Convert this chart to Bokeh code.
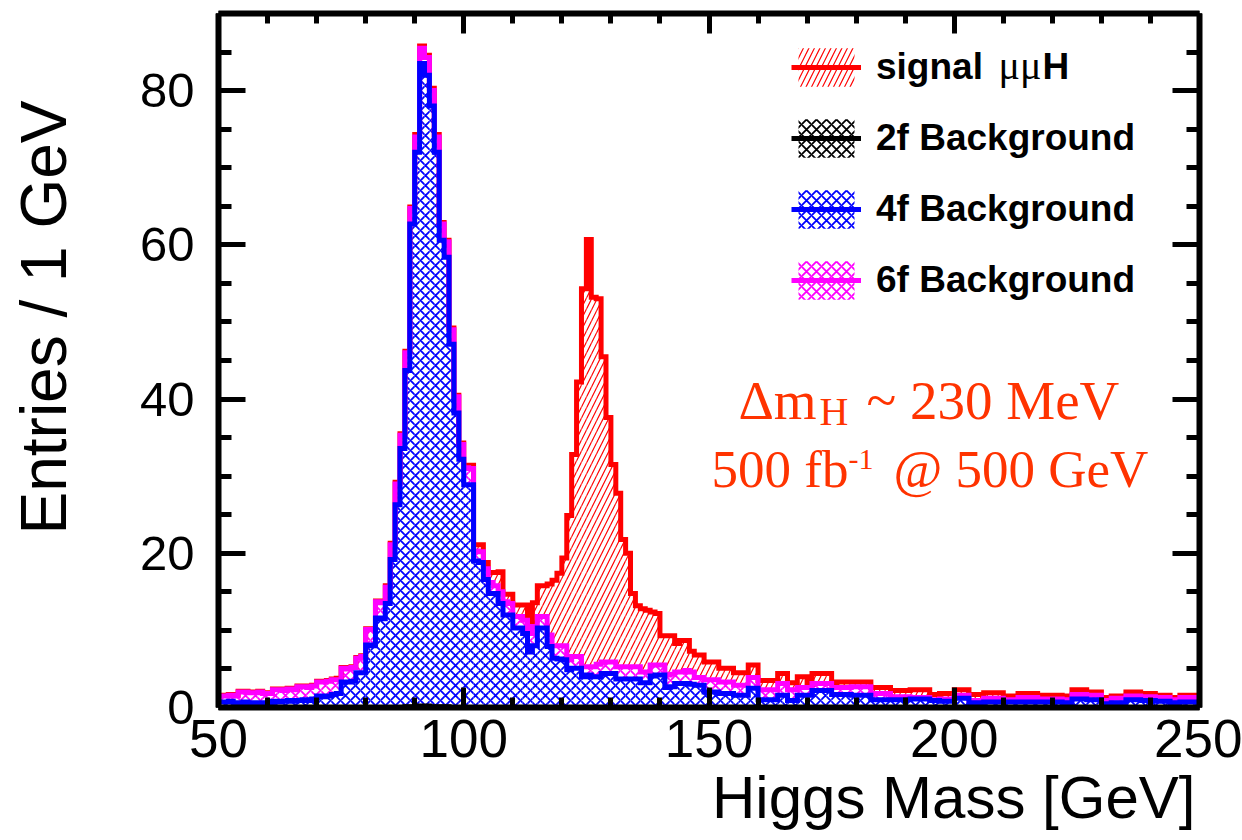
import numpy as np
from bokeh.plotting import figure
from bokeh.models import (Range1d, SingleIntervalTicker, LinearAxis, Label,
                          Legend, LegendItem, Title)
from bokeh.embed import file_html
from bokeh.resources import INLINE

# ---------------- data (1 GeV bins from 50 to 250 GeV) ----------------
bin_edges = list(range(50, 251))

# 2f background (negligible)
bkg_2f = [
    0.0, 0.0, 0.0, 0.0, 0.0, 0.0, 0.0, 0.0, 0.0, 0.0,
    0.0, 0.0, 0.0, 0.0, 0.0, 0.0, 0.0, 0.0, 0.0, 0.0,
    0.0, 0.0, 0.0, 0.0, 0.0, 0.0, 0.0, 0.0, 0.0, 0.0,
    0.0, 0.0, 0.0, 0.0, 0.0, 0.0, 0.0, 0.0, 0.1, 0.1,
    0.1, 0.2, 0.2, 0.1, 0.1, 0.1, 0.1, 0.0, 0.0, 0.0,
    0.0, 0.0, 0.0, 0.0, 0.0, 0.0, 0.0, 0.0, 0.0, 0.0,
    0.0, 0.0, 0.0, 0.0, 0.0, 0.0, 0.0, 0.0, 0.0, 0.0,
    0.0, 0.0, 0.0, 0.0, 0.0, 0.0, 0.0, 0.0, 0.0, 0.0,
    0.0, 0.0, 0.0, 0.0, 0.0, 0.0, 0.0, 0.0, 0.0, 0.0,
    0.0, 0.0, 0.0, 0.0, 0.0, 0.0, 0.0, 0.0, 0.0, 0.0,
    0.0, 0.0, 0.0, 0.0, 0.0, 0.0, 0.0, 0.0, 0.0, 0.0,
    0.0, 0.0, 0.0, 0.0, 0.0, 0.0, 0.0, 0.0, 0.0, 0.0,
    0.0, 0.0, 0.0, 0.0, 0.0, 0.0, 0.0, 0.0, 0.0, 0.0,
    0.0, 0.0, 0.0, 0.0, 0.0, 0.0, 0.0, 0.0, 0.0, 0.0,
    0.0, 0.0, 0.0, 0.0, 0.0, 0.0, 0.0, 0.0, 0.0, 0.0,
    0.0, 0.0, 0.0, 0.0, 0.0, 0.0, 0.0, 0.0, 0.0, 0.0,
    0.0, 0.0, 0.0, 0.0, 0.0, 0.0, 0.0, 0.0, 0.0, 0.0,
    0.0, 0.0, 0.0, 0.0, 0.0, 0.0, 0.0, 0.0, 0.0, 0.0,
    0.0, 0.0, 0.0, 0.0, 0.0, 0.0, 0.0, 0.0, 0.0, 0.0,
    0.0, 0.0, 0.0, 0.0, 0.0, 0.0, 0.0, 0.0, 0.0, 0.0,
]

# stacked level: 2f + 4f (top of blue histogram)
stack_2f_4f = [
    0.7, 0.7, 0.8, 0.6, 0.6, 0.7, 0.6, 0.5, 0.6, 0.5,
    0.6, 0.8, 0.7, 0.8, 0.9, 0.8, 0.9, 1.0, 0.9, 1.1,
    1.5, 1.4, 1.5, 1.7, 1.8, 3.3, 3.3, 3.4, 4.5, 4.5,
    8.1, 8.0, 11.6, 11.5, 13.5, 19.2, 26.3, 33.6, 43.7, 62.7,
    72.0, 83.5, 82.0, 78.0, 72.0, 60.6, 58.4, 47.1, 38.2, 32.2,
    28.9, 28.9, 19.0, 18.8, 16.6, 14.8, 14.8, 13.5, 12.0, 12.0,
    10.3, 10.3, 9.6, 7.2, 8.0, 10.3, 10.3, 7.9, 6.4, 6.3,
    6.2, 4.9, 5.1, 5.1, 4.0, 4.2, 4.0, 4.0, 4.4, 4.4,
    4.4, 3.7, 3.7, 3.7, 3.7, 3.7, 3.2, 3.2, 4.1, 4.2,
    4.2, 2.6, 2.7, 3.1, 3.1, 3.1, 3.0, 2.9, 2.9, 2.0,
    2.0, 2.0, 1.8, 1.8, 1.8, 1.6, 1.6, 1.6, 2.5, 2.5,
    1.0, 1.0, 1.0, 1.0, 1.6, 1.6, 0.9, 0.9, 1.6, 1.6,
    1.6, 2.2, 2.2, 2.2, 2.2, 1.7, 1.7, 1.7, 1.7, 1.6,
    1.6, 1.6, 1.6, 1.0, 1.0, 1.0, 1.0, 1.0, 1.0, 1.0,
    1.0, 1.1, 1.1, 1.1, 1.1, 0.9, 0.9, 0.8, 0.8, 0.8,
    1.2, 1.2, 1.2, 0.6, 0.6, 0.6, 0.7, 0.7, 0.7, 0.7,
    0.7, 0.7, 0.7, 0.7, 0.7, 0.7, 0.7, 0.7, 0.7, 0.7,
    0.7, 0.7, 0.6, 0.6, 1.1, 1.1, 1.1, 1.0, 1.0, 1.0,
    0.5, 0.5, 0.6, 0.6, 0.6, 1.0, 1.0, 1.0, 0.9, 0.9,
    0.9, 0.8, 0.8, 0.8, 0.6, 0.6, 0.7, 0.7, 0.7, 0.7,
]

# stacked level: all backgrounds (top of magenta histogram)
stack_bkg = [
    1.5, 1.5, 1.6, 1.5, 2.0, 2.0, 1.9, 1.9, 2.0, 1.8,
    1.8, 2.3, 2.3, 2.2, 2.4, 2.3, 2.7, 2.7, 2.6, 2.8,
    3.3, 3.3, 3.4, 3.6, 3.6, 5.1, 5.0, 5.2, 6.4, 6.6,
    10.1, 10.1, 13.7, 13.6, 15.6, 21.1, 29.0, 35.3, 46.0, 64.7,
    74.0, 85.5, 84.3, 80.0, 74.0, 62.7, 60.4, 49.0, 40.3, 34.1,
    31.1, 31.0, 20.3, 20.2, 18.0, 16.2, 15.8, 15.0, 13.7, 13.5,
    11.8, 11.8, 11.3, 9.6, 10.5, 11.8, 11.8, 9.4, 8.0, 8.0,
    8.0, 6.2, 6.6, 6.6, 5.3, 5.3, 5.3, 5.6, 5.9, 5.9,
    5.9, 5.3, 5.3, 5.3, 5.3, 5.3, 4.6, 4.6, 5.5, 5.5,
    5.5, 4.2, 4.3, 4.6, 4.6, 4.8, 4.6, 3.9, 3.9, 3.6,
    3.6, 3.6, 3.3, 3.3, 3.3, 2.9, 2.9, 2.9, 3.9, 3.9,
    2.3, 2.3, 2.3, 2.3, 3.1, 3.1, 2.3, 2.3, 2.6, 2.6,
    2.6, 3.1, 3.1, 3.1, 3.1, 2.6, 2.6, 2.6, 2.6, 2.7,
    2.7, 2.7, 2.7, 1.8, 1.8, 1.8, 1.8, 1.4, 1.4, 1.4,
    1.4, 1.3, 1.3, 1.3, 1.3, 1.0, 1.0, 1.1, 1.1, 1.1,
    1.6, 1.6, 1.6, 0.9, 0.9, 0.9, 1.2, 1.2, 1.2, 1.2,
    1.0, 1.0, 1.0, 1.3, 1.3, 1.3, 1.3, 1.1, 1.1, 1.1,
    1.1, 1.1, 1.0, 1.0, 1.7, 1.7, 1.7, 1.6, 1.6, 1.6,
    0.9, 0.9, 1.2, 1.2, 1.2, 1.5, 1.5, 1.5, 1.4, 1.4,
    1.4, 1.3, 1.3, 1.3, 1.0, 1.0, 1.3, 1.3, 1.3, 1.3,
]

# stacked level: backgrounds + signal mumuH (top of red histogram)
stack_total = [
    1.6, 1.6, 1.7, 1.6, 2.1, 2.1, 2.0, 2.0, 2.1, 1.9,
    1.9, 2.4, 2.4, 2.3, 2.5, 2.4, 2.8, 2.8, 2.7, 2.9,
    3.4, 3.4, 3.5, 3.7, 3.8, 5.2, 5.1, 5.3, 6.5, 6.7,
    10.2, 10.2, 13.8, 13.7, 15.8, 21.3, 29.2, 35.5, 46.2, 64.9,
    74.3, 85.8, 84.6, 80.3, 74.3, 62.9, 60.6, 49.2, 40.5, 34.3,
    31.4, 31.4, 21.1, 21.1, 18.8, 17.5, 17.5, 17.6, 14.7, 14.7,
    13.3, 13.3, 13.3, 10.5, 13.6, 15.8, 15.8, 16.0, 16.5, 17.4,
    19.4, 24.9, 32.8, 42.2, 54.3, 60.7, 53.2, 53.0, 45.5, 37.6,
    31.5, 27.8, 21.8, 20.0, 14.8, 13.2, 12.8, 12.6, 12.4, 12.2,
    9.3, 9.3, 9.3, 8.3, 8.7, 8.7, 7.3, 6.8, 6.8, 5.9,
    5.9, 5.9, 5.1, 5.1, 5.1, 4.5, 4.5, 4.5, 5.5, 5.5,
    3.5, 3.5, 3.5, 3.5, 4.4, 4.4, 3.2, 3.2, 4.0, 4.0,
    3.0, 4.4, 4.4, 4.4, 4.4, 3.2, 3.3, 3.3, 3.3, 3.3,
    3.3, 3.3, 3.3, 2.6, 2.6, 2.6, 2.6, 2.2, 2.2, 2.2,
    2.2, 2.3, 2.3, 2.3, 2.3, 1.7, 1.7, 1.8, 1.8, 1.8,
    2.3, 2.3, 2.3, 1.7, 1.7, 1.7, 1.9, 1.9, 1.9, 1.9,
    1.5, 1.5, 1.5, 1.8, 1.8, 1.8, 1.8, 1.6, 1.6, 1.6,
    1.6, 1.6, 1.5, 1.5, 2.3, 2.3, 2.3, 2.0, 2.0, 2.0,
    1.3, 1.3, 1.5, 1.5, 1.5, 2.0, 2.0, 2.0, 1.8, 1.8,
    1.8, 1.6, 1.6, 1.6, 1.3, 1.3, 1.6, 1.6, 1.6, 1.6,
]

x_major_ticks = [50, 100, 150, 200, 250]
y_major_ticks = [0, 20, 40, 60, 80]

# ---------------- figure ----------------
X0, X1, Y0, Y1 = 50, 250, 0, 90
W, H = 1242, 840
ML, MT = 218, 13
FW, FH = 981, 694
MR, MB = W - ML - FW, H - MT - FH

p = figure(width=W, height=H, x_range=Range1d(X0, X1), y_range=Range1d(Y0, Y1),
           output_backend="svg", toolbar_location=None,
           min_border_left=ML, min_border_right=MR,
           min_border_top=MT, min_border_bottom=MB)
p.grid.visible = False
p.outline_line_color = None
p.background_fill_color = "white"
p.border_fill_color = "white"


def px2x(px):
    # canvas pixel column -> data x
    return X0 + (px - ML) * (X1 - X0) / FW


def py2y(py):
    # canvas pixel row -> data y
    return Y0 + (MT + FH - py) * (Y1 - Y0) / FH


edges = np.array(bin_edges, dtype=float)
left, right = edges[:-1], edges[1:]
L2 = np.array(bkg_2f)
L4 = np.array(stack_2f_4f)
L6 = np.array(stack_bkg)
LT = np.array(stack_total)

RED, MAG, BLUE, BLACK = "#ff0000", "#ff00ff", "#0000ff", "#000000"
LW = 5

q_sig = p.quad(left=left, right=right, bottom=L6, top=LT, fill_color=None,
               line_color=None, hatch_pattern="/", hatch_color=RED,
               hatch_scale=11, hatch_weight=1.2)
q_6f = p.quad(left=left, right=right, bottom=L4, top=L6, fill_color=None,
              line_color=None, hatch_pattern="x", hatch_color=MAG,
              hatch_scale=10, hatch_weight=1.8)
q_4f = p.quad(left=left, right=right, bottom=L2, top=L4, fill_color=None,
              line_color=None, hatch_pattern="x", hatch_color=BLUE,
              hatch_scale=10, hatch_weight=1.8)
q_2f = p.quad(left=left, right=right, bottom=np.zeros_like(L2), top=L2,
              fill_color=None, line_color=None, hatch_pattern="x",
              hatch_color=BLACK, hatch_scale=10, hatch_weight=1.8)


def step_y(v):
    return list(v) + [v[-1]]


l_sig = p.step(x=edges, y=step_y(LT), mode="after", line_color=RED,
               line_width=LW, line_join="miter")
l_6f = p.step(x=edges, y=step_y(L6), mode="after", line_color=MAG,
              line_width=LW, line_join="miter")
l_4f = p.step(x=edges, y=step_y(L4), mode="after", line_color=BLUE,
              line_width=LW, line_join="miter")
l_2f = p.step(x=edges, y=step_y(L2), mode="after", line_color=BLACK,
              line_width=LW, line_join="miter")

# ---------------- axes ----------------
bottom_ax = p.below[0]
left_ax = p.left[0]
xt = SingleIntervalTicker(interval=50, num_minor_ticks=5)
yt = SingleIntervalTicker(interval=20, num_minor_ticks=4)
bottom_ax.ticker = xt
left_ax.ticker = yt

top_ax = LinearAxis(ticker=xt,
                    major_label_overrides={t: "" for t in x_major_ticks})
right_ax = LinearAxis(ticker=yt,
                      major_label_overrides={t: "" for t in y_major_ticks})
p.add_layout(top_ax, "above")
p.add_layout(right_ax, "right")

for ax in [bottom_ax, top_ax]:
    ax.major_tick_in = 20
    ax.minor_tick_in = 10
for ax in [left_ax, right_ax]:
    ax.major_tick_in = 27
    ax.minor_tick_in = 13
for ax in [bottom_ax, top_ax, left_ax, right_ax]:
    ax.major_tick_out = 0
    ax.minor_tick_out = 0
    ax.axis_line_width = 6
    ax.major_tick_line_width = 5
    ax.minor_tick_line_width = 5
    ax.axis_line_color = "black"
    ax.major_tick_line_color = "black"
    ax.minor_tick_line_color = "black"
    ax.major_label_text_font = "Liberation Sans"
    ax.major_label_text_color = "black"
for ax in [top_ax, right_ax]:
    ax.major_label_text_font_size = "8px"
    ax.major_label_standoff = 0
bottom_ax.major_label_text_font_size = "53px"
bottom_ax.major_label_standoff = 12
left_ax.major_label_text_font_size = "49px"
left_ax.major_label_standoff = 24

# axis titles (ROOT style, aligned to the axis end)
# (the trailing empty line keeps the vertical title clear of the tick labels)
p.add_layout(Title(text="Entries / 1 GeV\n", align="right", offset=87,
                   vertical_align="top", standoff=0, text_line_height=0.76,
                   text_font="Liberation Sans", text_font_size="64px",
                   text_font_style="normal", text_color="black"), "left")
p.add_layout(Title(text="Higgs Mass [GeV]", align="right", offset=4,
                   standoff=4, text_font="Liberation Sans",
                   text_font_size="60px", text_font_style="normal",
                   text_color="black"), "below")

# ---------------- legend ----------------
legend = Legend(items=[
    LegendItem(label="signal", renderers=[q_sig, l_sig]),
    LegendItem(label="2f Background", renderers=[q_2f, l_2f]),
    LegendItem(label="4f Background", renderers=[q_4f, l_4f]),
    LegendItem(label="6f Background", renderers=[q_6f, l_6f]),
], location=(573, 403))
legend.glyph_width = 70
legend.glyph_height = 48
legend.label_height = 48
legend.spacing = 23
legend.padding = 0
legend.margin = 0
legend.border_line_color = None
legend.background_fill_alpha = 0
legend.label_text_font = "Liberation Sans"
legend.label_text_font_style = "bold"
legend.label_text_font_size = "37px"
legend.label_text_color = "black"
legend.label_standoff = 15
legend.label_text_baseline = "middle"
p.add_layout(legend)

# rest of the first legend label: greek mu mu (serif) + bold H
p.add_layout(Label(x=px2x(998), y=py2y(65), text="\u03bc\u03bc", text_align="left",
                   text_baseline="alphabetic", text_font="Liberation Serif",
                   text_font_size="40px", text_color="black"))
p.add_layout(Label(x=px2x(1042), y=py2y(66), text="H", text_align="left",
                   text_baseline="alphabetic", text_font="Liberation Sans",
                   text_font_style="bold", text_font_size="37px", text_color="black"))

# ---------------- annotation ----------------
ANN = "#ff3300"
SERIF = "Liberation Serif"
p.add_layout(Label(x=px2x(738), y=py2y(400), text="\u0394m", text_align="left",
                   text_baseline="alphabetic", text_font=SERIF,
                   text_font_size="55px", text_color=ANN))
p.add_layout(Label(x=px2x(819), y=py2y(411), text="H", text_align="left",
                   text_baseline="alphabetic", text_font=SERIF,
                   text_font_size="40px", text_color=ANN))
p.add_layout(Label(x=px2x(866), y=py2y(400), text="~ 230 MeV", text_align="left",
                   text_baseline="alphabetic", text_font=SERIF,
                   text_font_size="55px", text_color=ANN))
p.add_layout(Label(x=px2x(711), y=py2y(468), text="500 fb", text_align="left",
                   text_baseline="alphabetic", text_font=SERIF,
                   text_font_size="53px", text_color=ANN))
p.add_layout(Label(x=px2x(848), y=py2y(459), text="-1", text_align="left",
                   text_baseline="alphabetic", text_font=SERIF,
                   text_font_size="30px", text_color=ANN))
p.add_layout(Label(x=px2x(893), y=py2y(468), text="@ 500 GeV", text_align="left",
                   text_baseline="alphabetic", text_font=SERIF,
                   text_font_size="53px", text_color=ANN))

open("out.html", "w").write(file_html(p, INLINE))
